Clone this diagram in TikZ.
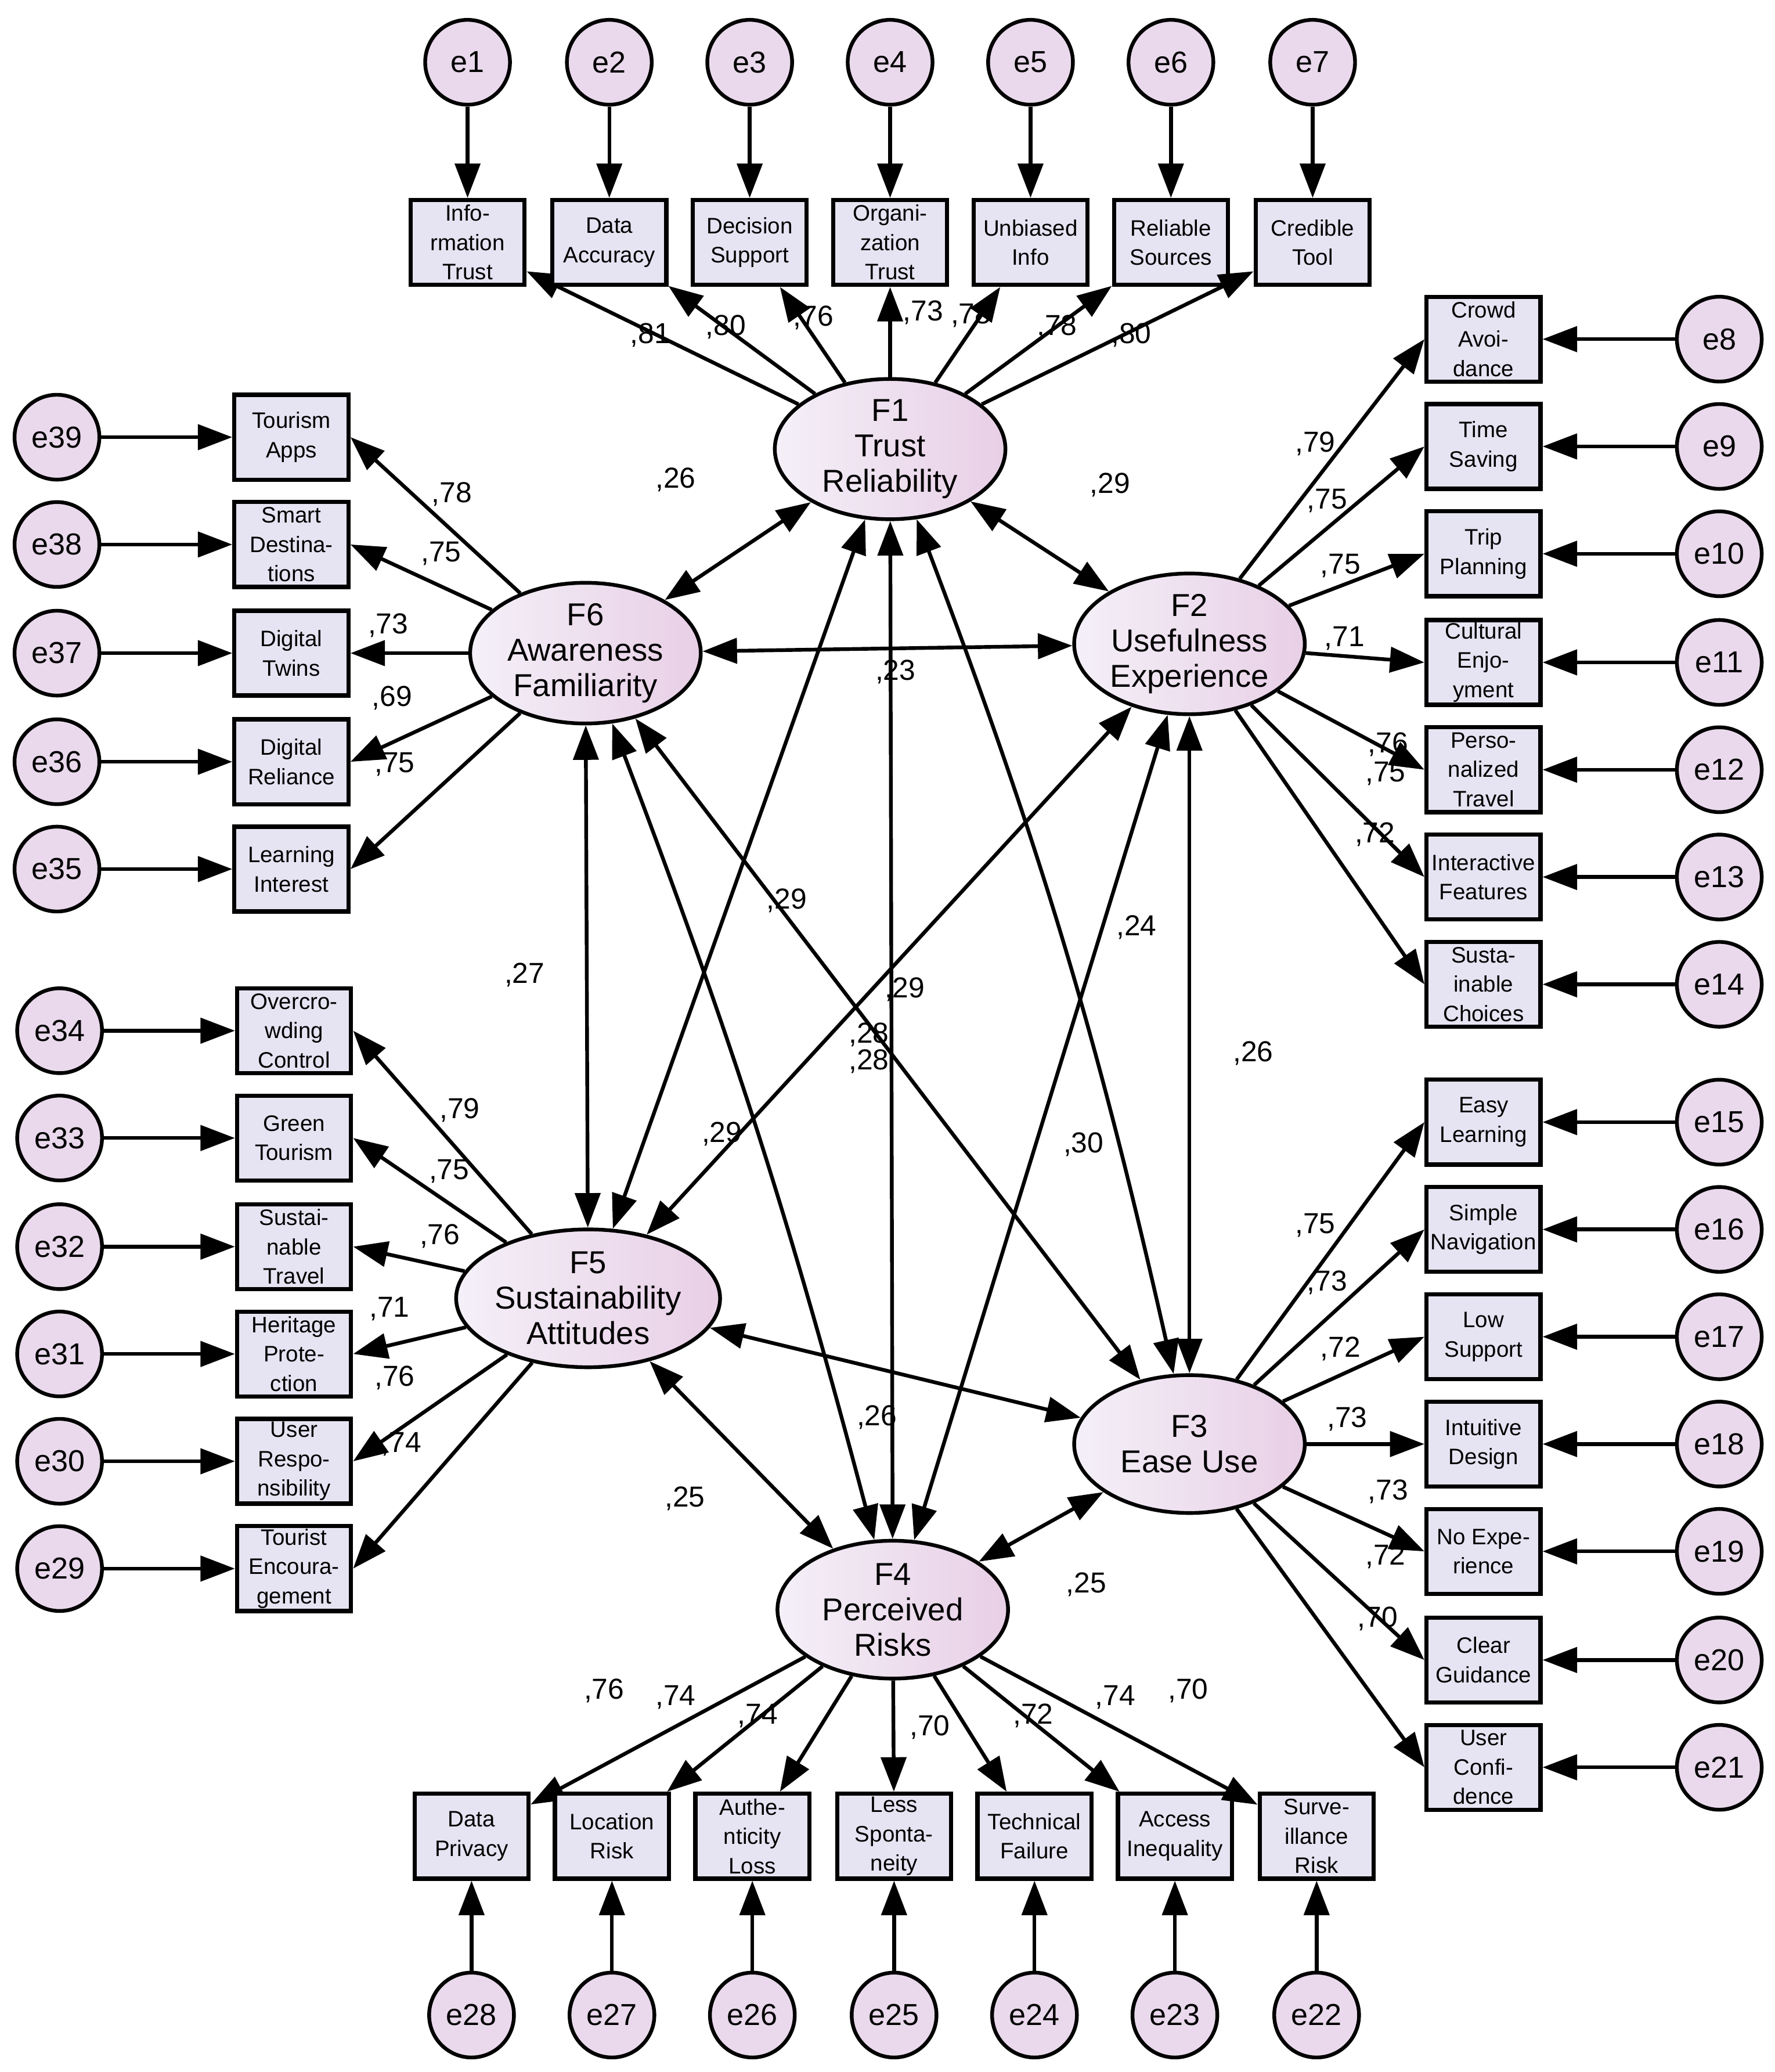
\documentclass[tikz,border=0pt]{standalone}
\usepackage{fontspec}
\setmainfont{Liberation Sans}
\usetikzlibrary{shapes.geometric,arrows.meta}
\definecolor{ef}{HTML}{EAD9EC}
\definecolor{bf}{HTML}{E6E4F2}
\definecolor{fl}{HTML}{F4F0F8}
\definecolor{fr}{HTML}{E8CFE6}
\tikzset{
 err/.style={circle,draw,line width=0.8pt,fill=ef,minimum size=0.64cm,inner sep=0,font=\fontsize{6.5}{7}\selectfont},
 box/.style={rectangle,draw,line width=0.9pt,fill=bf,minimum width=0.86cm,minimum height=0.64cm,inner sep=0,align=center,font=\fontsize{4.8}{6.3}\selectfont},
 fac/.style={ellipse,draw,line width=0.8pt,left color=fl,right color=fr,minimum width=1.74cm,minimum height=1.04cm,inner sep=0,align=center,font=\fontsize{6.8}{7.6}\selectfont},
 arr/.style={line width=0.8pt,-{Triangle[length=0.26cm,width=0.19cm]}},
 dar/.style={line width=0.8pt,{Triangle[length=0.26cm,width=0.19cm]}-{Triangle[length=0.26cm,width=0.19cm]}},
 lab/.style={font=\fontsize{6.2}{7}\selectfont,inner sep=0}
}
\begin{document}
\begin{tikzpicture}[x=0.01cm,y=-0.01cm]
\useasboundingbox (0,0) rectangle (1340,1564);
\node[fac] (F1) at (672,339) {F1\\Trust\\Reliability};
\node[fac] (F6) at (442,493) {F6\\Awareness\\Familiarity};
\node[fac] (F2) at (898,486) {F2\\Usefulness\\Experience};
\node[fac] (F5) at (444,980) {F5\\Sustainability\\Attitudes};
\node[fac] (F3) at (898,1090) {F3\\Ease Use};
\node[fac] (F4) at (674,1215) {F4\\Perceived\\Risks};
% top
\foreach \i/\x/\t in {1/353/{Info-\\rmation\\Trust},2/460/{Data\\Accuracy},3/566/{Decision\\Support},4/672/{Organi-\\zation\\Trust},5/778/{Unbiased\\Info},6/884/{Reliable\\Sources},7/991/{Credible\\Tool}}{
 \node[box] (b\i) at (\x,183) {\t};
 \node[err] (e\i) at (\x,47) {e\i};
 \draw[arr] (e\i) -- (b\i);
 \draw[arr] (F1) -- (b\i);
}
% right F2
\foreach \i/\y/\t in {8/256/{Crowd\\Avoi-\\dance},9/337/{Time\\Saving},10/418/{Trip\\Planning},11/500/{Cultural\\Enjo-\\yment},12/581/{Perso-\\nalized\\Travel},13/662/{Interactive\\Features},14/743/{Susta-\\inable\\Choices}}{
 \node[box] (b\i) at (1120,\y) {\t};
 \node[err] (e\i) at (1298,\y) {e\i};
 \draw[arr] (e\i) -- (b\i);
 \draw[arr] (F2) -- (b\i.west);
}
% right F3
\foreach \i/\y/\t in {15/847/{Easy\\Learning},16/928/{Simple\\Navigation},17/1009/{Low\\Support},18/1090/{Intuitive\\Design},19/1171/{No Expe-\\rience},20/1253/{Clear\\Guidance},21/1334/{User\\Confi-\\dence}}{
 \node[box] (b\i) at (1120,\y) {\t};
 \node[err] (e\i) at (1298,\y) {e\i};
 \draw[arr] (e\i) -- (b\i);
 \draw[arr] (F3) -- (b\i.west);
}
% bottom
\foreach \i/\x/\t in {28/356/{Data\\Privacy},27/462/{Location\\Risk},26/568/{Authe-\\nticity\\Loss},25/675/{Less\\Sponta-\\neity},24/781/{Technical\\Failure},23/887/{Access\\Inequality},22/994/{Surve-\\illance\\Risk}}{
 \node[box] (b\i) at (\x,1386) {\t};
 \node[err] (e\i) at (\x,1521) {e\i};
 \draw[arr] (e\i) -- (b\i);
 \draw[arr] (F4) -- (b\i);
}
% left F6
\foreach \i/\y/\t in {39/330/{Tourism\\Apps},38/411/{Smart\\Destina-\\tions},37/493/{Digital\\Twins},36/575/{Digital\\Reliance},35/656/{Learning\\Interest}}{
 \node[box] (b\i) at (220,\y) {\t};
 \node[err] (e\i) at (43,\y) {e\i};
 \draw[arr] (e\i) -- (b\i);
 \draw[arr] (F6) -- (b\i.east);
}
% left F5
\foreach \i/\y/\t in {34/778/{Overcro-\\wding\\Control},33/859/{Green\\Tourism},32/941/{Sustai-\\nable\\Travel},31/1022/{Heritage\\Prote-\\ction},30/1103/{User\\Respo-\\nsibility},29/1184/{Tourist\\Encoura-\\gement}}{
 \node[box] (b\i) at (222,\y) {\t};
 \node[err] (e\i) at (45,\y) {e\i};
 \draw[arr] (e\i) -- (b\i);
 \draw[arr] (F5) -- (b\i.east);
}
% covariances
\draw[dar] (F1) -- (F6);
\draw[dar] (F1) -- (F2);
\draw[dar] (F6) -- (F2);
\draw[dar] (F1) -- (F5);
\draw[dar] (F1) to[bend left=4] (F3);
\draw[dar] (F6) -- (F5);
\draw[dar] (F6) -- (F3);
\draw[dar] (F1) -- (F4);
\draw[dar] (F6) to[bend left=3] (F4);
\draw[dar] (F2) -- (F5);
\draw[dar] (F2) -- (F4);
\draw[dar] (F2) -- (F3);
\draw[dar] (F5) -- (F3);
\draw[dar] (F5) -- (F4);
\draw[dar] (F3) -- (F4);
% labels
\foreach \x/\y/\t in {510/362/26,838/366/29,676/507/23,594/680/29,858/700/24,396/736/27,683/747/29,656/781/28,656/801/28,545/856/29,818/864/30,946/795/26,662/1070/26,517/1131/25,820/1196/25,
491/253/81,548/247/80,614/240/76,697/236/73,733/238/78,798/247/78,854/253/80,
993/335/79,1002/378/75,1012/427/75,1015/482/71,1048/562/76,1046/584/75,1038/630/72,
341/373/78,333/418/75,293/472/73,296/527/69,298/577/75,
347/838/79,339/884/75,332/933/76,294/988/71,298/1040/76,303/1090/74,
993/925/75,1002/968/73,1012/1018/72,1017/1071/73,1048/1126/73,1046/1175/72,1040/1222/70,
456/1276/76,510/1281/74,572/1295/74,702/1304/70,780/1295/72,842/1281/74,897/1276/70}
 \node[lab] at (\x,\y) {,\t};
\end{tikzpicture}
\end{document}
